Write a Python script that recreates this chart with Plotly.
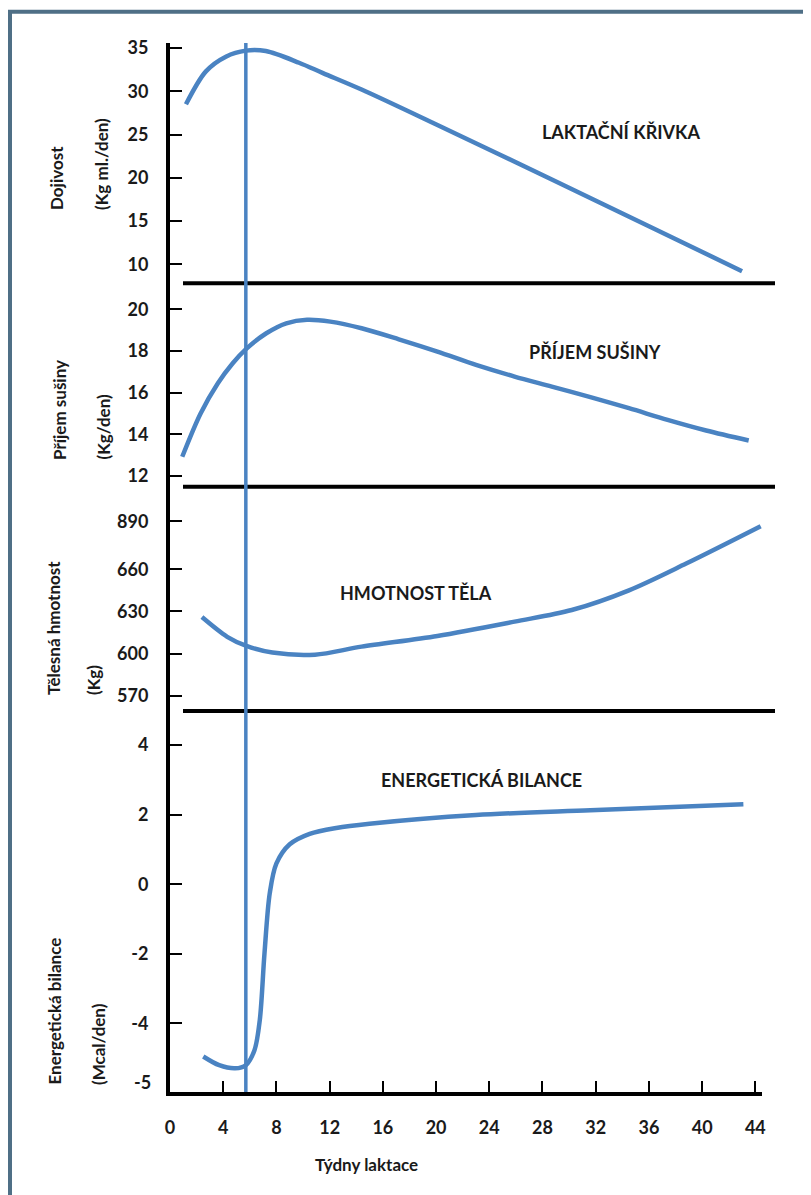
import plotly.graph_objects as go

# ---------------- data ----------------
x_ticks = [0, 4, 8, 12, 16, 20, 24, 28, 32, 36, 40, 44]

weeks_milk = [1.2, 2.7, 4.2, 5.7, 7.2, 9.7, 11.5, 14.4, 20.1, 28.7, 36.0, 43.0]
milk = [28.5, 32.3, 34.0, 34.7, 34.65, 33.3, 32.1, 30.2, 26.1, 19.8, 14.4, 9.2]

weeks_dmi = [0.92, 2.3, 3.6, 4.7, 5.73, 7.24, 8.74, 10.3, 12.05, 14.4, 17.2, 20.1,
             23.0, 25.9, 28.7, 31.6, 34.5, 37.4, 40.3, 43.5]
dmi = [12.92, 15.0, 16.45, 17.4, 18.1, 18.85, 19.33, 19.5, 19.41, 19.09, 18.56, 17.97,
       17.33, 16.77, 16.29, 15.78, 15.25, 14.69, 14.18, 13.7]

weeks_bw = [2.4, 4.3, 5.7, 7.7, 10.9, 14.4, 20.1, 25.9, 30.2, 34.5, 38.8, 44.4]
bw = [626, 612, 605.7, 600.8, 599.3, 605, 612.6, 622.8, 631, 645, 664, 690.5]

weeks_eb = [2.5, 3.7, 4.9, 5.7, 6.35, 6.75, 7.1, 7.5, 8.0, 9.0, 10.5, 12.5, 15.0,
            23.0, 31.6, 43.1]
eb = [-4.95, -5.2, -5.29, -5.2, -4.77, -3.9, -2.0, -0.25, 0.6, 1.15, 1.45, 1.62,
      1.74, 1.99, 2.13, 2.3]

marker_week = 5.7

milk_ticks = [10, 15, 20, 25, 30, 35]
dmi_ticks = [12, 14, 16, 18, 20]
bw_tickvals = [570, 600, 630, 660, 694]
bw_ticktext = ["570", "600", "630", "660", "890"]
eb_ticks = [-4, -2, 0, 2, 4]

# ---------------- layout helpers ----------------
OFF = 8                      # page body margin
W, H = 811 - OFF, 1195 - OFF
L, R, T, B = 170 - OFF, 49, 43 - OFF, 103
PW, PH = W - L - R, H - T - B


def fx(px):                  # page pixel -> paper x
    return (px - OFF - L) / PW


def fy(py):                  # page pixel -> paper y
    return (H - B - (py - OFF)) / PH


BLUE = "#4a83c2"
TXT = "#1a1a1a"
FONT = "Lato"

dom = [
    [fy(283.3), 1.0],
    [fy(486.7), fy(283.3)],
    [fy(711.0), fy(486.7)],
    [0.0, fy(711.0)],
]

fig = go.Figure()
series = [(weeks_milk, milk), (weeks_dmi, dmi), (weeks_bw, bw), (weeks_eb, eb)]
for i, (xs, ys) in enumerate(series):
    sfx = "" if i == 0 else str(i + 1)
    fig.add_trace(go.Scatter(
        x=xs, y=ys, mode="lines",
        line=dict(color=BLUE, width=4.5, shape="spline", smoothing=0.9),
        xaxis="x" + sfx, yaxis="y" + sfx, showlegend=False, hoverinfo="skip"))

tickfont = dict(family=FONT, size=18, color=TXT, weight="bold")
yranges = [[7.8, 35.58], [11.48, 21.25], [559.3, 718.6], [-5.97, 4.98]]
ytv = [milk_ticks, dmi_ticks, bw_tickvals, eb_ticks]
ytt = [[str(v) for v in milk_ticks], [str(v) for v in dmi_ticks], bw_ticktext,
       [str(v) for v in eb_ticks]]

layout = dict(
    width=W, height=H,
    margin=dict(l=L, r=R, t=T, b=B),
    paper_bgcolor="white", plot_bgcolor="white",
    showlegend=False,
)
for i in range(4):
    sfx = "" if i == 0 else str(i + 1)
    bottom = (i == 3)
    layout["xaxis" + sfx] = dict(
        domain=[0, 1], anchor="y" + sfx, range=[0, 44.5],
        showgrid=False, zeroline=False,
        showline=bottom, linecolor="black", linewidth=4,
        tickvals=x_ticks if bottom else [],
        ticktext=[str(v) for v in x_ticks] if bottom else [],
        showticklabels=bottom,
        ticks="inside" if bottom else "", ticklen=11, tickwidth=1.5, tickcolor="black",
        tickfont=tickfont, ticklabelstandoff=16,
    )
    layout["yaxis" + sfx] = dict(
        domain=dom[i], anchor="x" + sfx, range=yranges[i],
        showgrid=False, zeroline=False,
        showline=True, linecolor="black", linewidth=4,
        tickvals=ytv[i], ticktext=ytt[i],
        ticks="inside", ticklen=12, tickwidth=1.5, tickcolor="black",
        tickfont=tickfont, ticklabelstandoff=14,
    )
fig.update_layout(**layout)

shapes = []
# panel separators
for py in [283.3, 486.7, 711.0]:
    shapes.append(dict(type="line", xref="paper", yref="paper",
                       x0=fx(183), x1=fx(775), y0=fy(py), y1=fy(py),
                       line=dict(color="black", width=4)))
# vertical marker line (peak of lactation)
shapes.append(dict(type="line", xref="x4", yref="paper",
                   x0=marker_week, x1=marker_week, y0=0, y1=1,
                   line=dict(color=BLUE, width=3.5)))
# outer frame
shapes.append(dict(type="rect", xref="paper", yref="paper",
                   x0=fx(10), x1=fx(840), y0=fy(1240), y1=fy(11.7),
                   line=dict(color="#4f6f86", width=4), fillcolor="rgba(0,0,0,0)",
                   layer="below"))
fig.update_layout(shapes=shapes)

ann = []


def label(text, px, py, size=18, xanchor="center", yanchor="middle", **kw):
    ann.append(dict(text=text, x=fx(px), y=fy(py), xref="paper", yref="paper",
                    showarrow=False, xanchor=xanchor, yanchor=yanchor,
                    font=dict(family=FONT, size=size, color=TXT, weight="bold"), **kw))


label("LAKTAČNÍ KŘIVKA", 621, 132)
label("PŘÍJEM SUŠINY", 595, 352)
label("HMOTNOST TĚLA", 416, 593)
label("ENERGETICKÁ BILANCE", 482, 780)
label("Týdny laktace", 366, 1164, size=17)
label("-5", 153, 1082, size=18, xanchor="right")

# y-axis titles (rotated, bottom aligned)
titles = [
    ("Dojivost", 57, 212), ("(Kg ml./den)", 102, 212),
    ("Příjem sušiny", 60, 462), ("(Kg/den)", 103, 462),
    ("Tělesná hmotnost", 53, 697), ("(Kg)", 93, 697),
    ("Energetická bilance", 54, 1087), ("(Mcal/den)", 98, 1087),
]
for t, px, py in titles:
    label(t, px, py, size=17, textangle=-90, yanchor="bottom")

fig.update_layout(annotations=ann)

fig.write_html("out.html")
